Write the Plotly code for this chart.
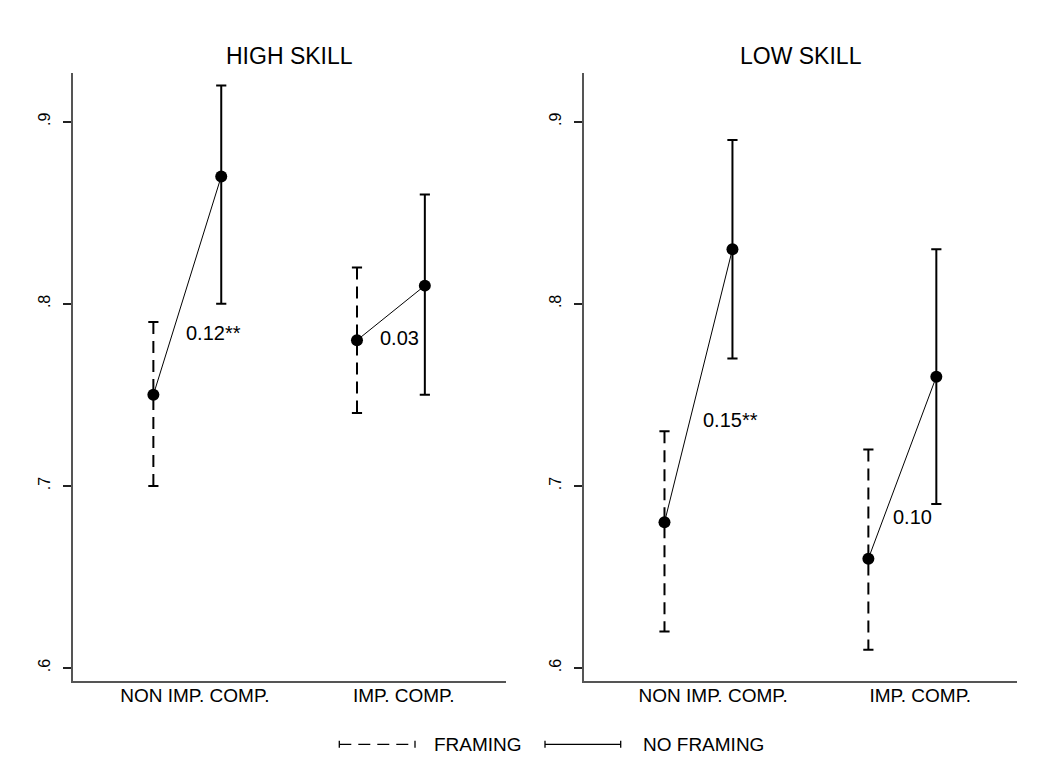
import plotly.graph_objects as go

# ---------------- data ----------------
panels = ["HIGH SKILL", "LOW SKILL"]
categories = ["NON IMP. COMP.", "IMP. COMP."]
series = ["FRAMING", "NO FRAMING"]

high_framing_mean = [0.75, 0.78]
high_framing_lo = [0.70, 0.74]
high_framing_hi = [0.79, 0.82]
high_noframing_mean = [0.87, 0.81]
high_noframing_lo = [0.80, 0.75]
high_noframing_hi = [0.92, 0.86]

low_framing_mean = [0.68, 0.66]
low_framing_lo = [0.62, 0.61]
low_framing_hi = [0.73, 0.72]
low_noframing_mean = [0.83, 0.76]
low_noframing_lo = [0.77, 0.69]
low_noframing_hi = [0.89, 0.83]

high_diff_labels = ["0.12**", "0.03"]
low_diff_labels = ["0.15**", "0.10"]
high_label_y = [0.784, 0.7815]
low_label_y = [0.736, 0.683]

y_tickvals = [0.6, 0.7, 0.8, 0.9]
y_ticktext = [".6", ".7", ".8", ".9"]

# ---------------- style ----------------
PAGE_OFF = 8                     # default body margin of the html page
W, H = 1055 - PAGE_OFF, 775 - PAGE_OFF
FONT = "Liberation Sans, Arial, Helvetica, sans-serif"
OFF = 1 / 6          # half distance between framing / no framing within a group
CAPW = 0.025         # half cap width (x units)
DASH = "12px,7px"
XRANGE = [0.4371, 2.5638]
YRANGE = [0.5931, 0.9268]
label_dx = {"HIGH SKILL": [-0.016, -0.065], "LOW SKILL": [0.012, -0.058]}
cat_tick_pos = {"HIGH SKILL": [1.037, 2.063], "LOW SKILL": [1.072, 2.088]}


def px(x):
    return (x - PAGE_OFF) / W


def py(y):
    return 1 - (y - PAGE_OFF) / H


panel_data = {
    "HIGH SKILL": dict(fm=high_framing_mean, fl=high_framing_lo, fh=high_framing_hi,
                       nm=high_noframing_mean, nl=high_noframing_lo, nh=high_noframing_hi,
                       lab=high_diff_labels, laby=high_label_y),
    "LOW SKILL": dict(fm=low_framing_mean, fl=low_framing_lo, fh=low_framing_hi,
                      nm=low_noframing_mean, nl=low_noframing_lo, nh=low_noframing_hi,
                      lab=low_diff_labels, laby=low_label_y),
}

fig = go.Figure()


def bars(xs, lo, hi, dash, xa, ya):
    vx, vy, cx, cy = [], [], [], []
    for xi, l, h in zip(xs, lo, hi):
        vx += [xi, xi, None]
        vy += [h, l, None]
        cx += [xi - CAPW, xi + CAPW, None, xi - CAPW, xi + CAPW, None]
        cy += [h, h, None, l, l, None]
    fig.add_trace(go.Scatter(x=vx, y=vy, mode="lines", xaxis=xa, yaxis=ya,
                             line=dict(color="black", width=2, dash=dash),
                             showlegend=False, hoverinfo="skip"))
    fig.add_trace(go.Scatter(x=cx, y=cy, mode="lines", xaxis=xa, yaxis=ya,
                             line=dict(color="black", width=2),
                             showlegend=False, hoverinfo="skip"))


groups = [1, 2]
for i, p in enumerate(panels):
    d = panel_data[p]
    xa = "x" if i == 0 else "x2"
    ya = "y" if i == 0 else "y2"
    fx = [g - OFF for g in groups]
    nx = [g + OFF for g in groups]
    bars(fx, d["fl"], d["fh"], DASH, xa, ya)
    bars(nx, d["nl"], d["nh"], "solid", xa, ya)
    lx, ly = [], []
    for a, b, ya_, yb_ in zip(fx, nx, d["fm"], d["nm"]):
        lx += [a, b, None]
        ly += [ya_, yb_, None]
    fig.add_trace(go.Scatter(x=lx, y=ly, mode="lines", xaxis=xa, yaxis=ya,
                             line=dict(color="black", width=1),
                             showlegend=False, hoverinfo="skip"))
    fig.add_trace(go.Scatter(x=fx + nx, y=d["fm"] + d["nm"], mode="markers",
                             xaxis=xa, yaxis=ya,
                             marker=dict(color="black", size=12),
                             showlegend=False, hoverinfo="skip"))
    for g, t, yv, dx in zip(groups, d["lab"], d["laby"], label_dx[p]):
        fig.add_annotation(x=g + dx, y=yv, xref=xa, yref=ya, text=t,
                           showarrow=False, xanchor="left", yanchor="middle",
                           font=dict(size=20, color="black", family=FONT))

xdom = [[px(72.7), px(505.7)], [px(583.7), px(1017.3)]]
ydom = [py(680.5), py(73)]

common_x = dict(range=XRANGE, showgrid=False, zeroline=False, showline=True,
                linecolor="#555555", linewidth=1.5, ticks="",
                ticklabelstandoff=-3,
                tickfont=dict(size=19, color="black", family=FONT))
common_y = dict(range=YRANGE, showgrid=False, zeroline=False, showline=True,
                linecolor="#555555", linewidth=1.5, ticks="outside", ticklen=8,
                tickwidth=1.5, tickcolor="#222222", tickvals=y_tickvals,
                ticktext=y_ticktext, tickangle=-90, ticklabelstandoff=7,
                tickfont=dict(size=16, color="black", family=FONT))

fig.update_layout(
    width=W, height=H, autosize=False,
    margin=dict(l=0, r=0, t=0, b=0),
    paper_bgcolor="white", plot_bgcolor="white",
    xaxis=dict(domain=xdom[0], anchor="y", tickvals=cat_tick_pos[panels[0]],
               ticktext=categories, **common_x),
    yaxis=dict(domain=ydom, anchor="x", **common_y),
    xaxis2=dict(domain=xdom[1], anchor="y2", tickvals=cat_tick_pos[panels[1]],
                ticktext=categories, **common_x),
    yaxis2=dict(domain=ydom, anchor="x2", **common_y),
    showlegend=False,
)

# panel titles
for i, p in enumerate(panels):
    fig.add_annotation(x=(xdom[i][0] + xdom[i][1]) / 2, y=py(55.7),
                       xref="paper", yref="paper", text=p, showarrow=False,
                       xanchor="center", yanchor="middle",
                       font=dict(size=23, color="black", family=FONT))

# legend (drawn manually: error-bar style keys)
ly = py(744.3)
cap = 3.5 / H
leg = [(339.3, 415.0, DASH, 432.3, series[0]), (545.0, 620.7, "solid", 640.7, series[1])]
for x0, x1, dsh, tx, name in leg:
    fig.add_shape(type="line", xref="paper", yref="paper", x0=px(x0), x1=px(x1),
                  y0=ly, y1=ly, line=dict(color="black", width=1.3, dash=dsh))
    for xc in (x0, x1):
        fig.add_shape(type="line", xref="paper", yref="paper", x0=px(xc), x1=px(xc),
                      y0=ly - cap, y1=ly + cap, line=dict(color="black", width=1.3))
    fig.add_annotation(x=px(tx), y=ly, xref="paper", yref="paper", text=name,
                       showarrow=False, xanchor="left", yanchor="middle",
                       font=dict(size=19, color="black", family=FONT))

fig.write_html("out.html")
